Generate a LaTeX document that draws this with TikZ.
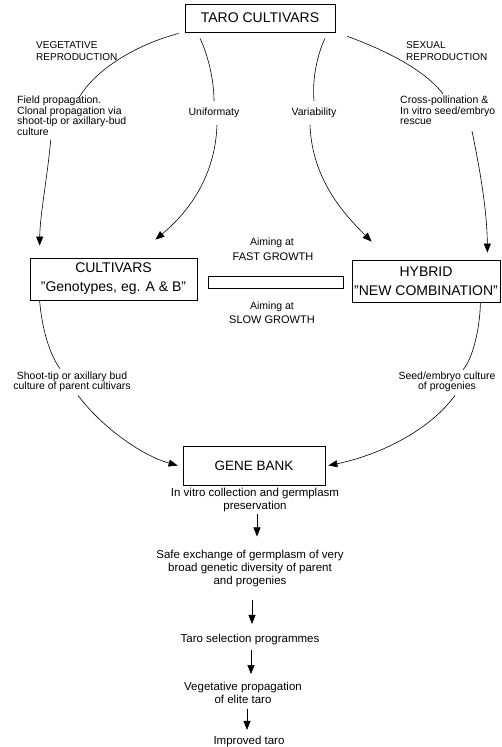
\documentclass[tikz,border=0pt]{standalone}
\usepackage{fontspec}
\setmainfont{Liberation Sans}
\usetikzlibrary{arrows.meta}
\begin{document}
\begin{tikzpicture}[x=1pt,y=-1pt,
  box/.style={draw, line width=0.8pt, inner sep=0pt, align=center},
  bigtext/.style={font=\fontsize{14}{19}\selectfont},
  lbl/.style={inner sep=0pt, align=center, font=\fontsize{10.5}{10.5}\selectfont},
  head/.style={inner sep=0pt, align=left, font=\fontsize{10}{12}\selectfont},
  mid/.style={inner sep=0pt, align=center, font=\fontsize{11.5}{13}\selectfont},
  con/.style={line width=0.6pt},
  arr/.style={con, -{Triangle[length=9pt,width=7pt]}}]
\fill[white] (0,0) rectangle (502,747);
\useasboundingbox (0,0) rectangle (502,747);

% boxes
\node[box, bigtext, minimum width=150pt, minimum height=28pt] (taro) at (260,18) {TARO CULTIVARS};
\node[box, bigtext, minimum width=167pt, minimum height=42pt, text depth=3pt] (cult) at (113.5,279) {CULTIVARS\\"Genotypes, eg. A \& B"};
\node[box, bigtext, minimum width=148pt, minimum height=42pt] (hyb) at (426,281) {HYBRID\\"NEW COMBINATION"};
\node[box, font=\fontsize{13.5}{16}\selectfont, minimum width=142pt, minimum height=39pt] (gene) at (254,465.5) {GENE BANK};
\node[draw, line width=0.8pt, minimum width=135pt, minimum height=12pt, inner sep=0pt] (bar) at (275.5,282) {};

% headings
\node[head, anchor=west] (veg) at (36,51) {VEGETATIVE\\REPRODUCTION};
\node[head, anchor=west] (sex) at (406,51) {SEXUAL\\REPRODUCTION};

% labels on arcs
\node[lbl, align=left, anchor=north west] (field) at (17,96) {Field propagation.\\Clonal propagation via\\shoot-tip or axillary-bud\\culture};
\node[lbl] (unif) at (214,113) {Uniformaty};
\node[lbl] (vari) at (314,113) {Variability};
\node[lbl, align=left, anchor=north west] (cross) at (400,96) {Cross-pollination \&\\In vitro seed/embryo\\rescue};

\node[lbl] (aimA) at (272,243) {Aiming at};
\node[inner sep=0pt, font=\fontsize{11}{13}\selectfont] (fast) at (273,257) {FAST GROWTH};
\node[lbl] (aimB) at (272,307) {Aiming at};
\node[inner sep=0pt, font=\fontsize{11}{13}\selectfont] (slow) at (272,320) {SLOW GROWTH};

\node[lbl] (shoot) at (72,382) {Shoot-tip or axillary bud\\culture of parent cultivars};
\node[lbl] (seed) at (447,382) {Seed/embryo culture\\of progenies};

% lower chain
\node[mid] (invitro) at (255,500) {In vitro collection and germplasm\\preservation};
\node[mid] (safe) at (250,569) {Safe exchange of germplasm of very\\broad genetic diversity of parent\\and progenies};
\node[mid] (tsel) at (250,640) {Taro selection programmes};
\node[mid] (vprop) at (243,693) {Vegetative propagation\\of elite taro};
\node[mid] (impr) at (249,742) {Improved taro};

% arcs from TARO CULTIVARS
\draw[con] ([xshift=-6pt,yshift=-1pt]taro.south west) .. controls (135,45) and (95,70) .. ([xshift=7pt,yshift=-2pt]field.north);
\draw[arr] ([xshift=-21pt,yshift=-4pt]field.south) .. controls (47,180) and (40,215) .. ([xshift=10pt,yshift=12pt]cult.north west);

\draw[con] ([xshift=-60pt,yshift=-6pt]taro.south) .. controls (208,55) and (214,80) .. ([yshift=7pt]unif.north);
\draw[arr] ([xshift=3pt,yshift=-7pt]unif.south) .. controls (215,180) and (185,215) .. ([xshift=-42pt,yshift=18pt]cult.north east);

\draw[con] ([xshift=65pt,yshift=-6pt]taro.south) .. controls (317,55) and (312,80) .. ([yshift=7pt]vari.north);
\draw[arr] ([xshift=-4pt,yshift=-7pt]vari.south) .. controls (312,180) and (345,215) .. ([xshift=20pt,yshift=18pt]hyb.north west);

\draw[con] ([xshift=12pt,yshift=-4pt]taro.south east) .. controls (385,50) and (425,70) .. ([xshift=43pt,yshift=2pt]cross.north west);
\draw[arr] ([xshift=72pt,yshift=-6pt]cross.south west) .. controls (480,170) and (487,210) .. ([xshift=-13pt,yshift=7pt]hyb.north east);

% lines to gene bank
\draw[con] ([xshift=10pt]cult.south west) .. controls (42,330) and (50,355) .. ([xshift=-12pt,yshift=3pt]shoot.north);
\draw[arr] ([xshift=6pt,yshift=-3pt]shoot.south) .. controls (100,425) and (140,455) .. ([xshift=-5pt]gene.west);
\draw[con] ([xshift=-20pt]hyb.south east) .. controls (480,330) and (472,360) .. ([xshift=16pt,yshift=2pt]seed.north);
\draw[arr] ([xshift=8pt,yshift=-3pt]seed.south) .. controls (430,430) and (380,455) .. ([xshift=3pt]gene.east);

% vertical chain
\draw[arr] ([xshift=2pt,yshift=-2pt]invitro.south) -- ([xshift=7pt,yshift=14pt]safe.north);
\draw[arr] ([xshift=2pt,yshift=-12pt]safe.south) -- ([xshift=2pt,yshift=10.5pt]tsel.north);
\draw[arr] ([xshift=1pt,yshift=-4.5pt]tsel.south) -- ([xshift=8pt,yshift=8pt]vprop.north);
\draw[arr] ([xshift=4pt,yshift=-5pt]vprop.south) -- ([xshift=-2pt,yshift=6.5pt]impr.north);
\end{tikzpicture}
\end{document}
